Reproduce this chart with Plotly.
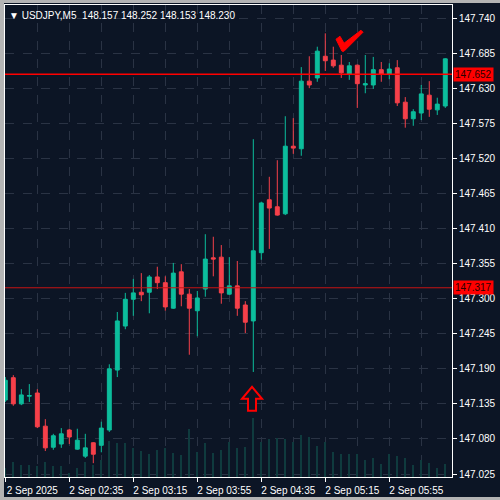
import plotly.graph_objects as go
import pandas as pd

# USDJPY M5 bars, 2 Sep 2025
times = pd.date_range("2025-09-02 01:55", periods=56, freq="5min")

opens = [147.141, 147.176, 147.135, 147.147, 147.152, 147.100, 147.067, 147.072, 147.094, 147.064,
         147.053, 147.074, 147.070, 147.094, 147.188, 147.257, 147.299, 147.310, 147.310, 147.334,
         147.325, 147.285, 147.342, 147.307, 147.281, 147.315, 147.364, 147.365, 147.307, 147.320,
         147.290, 147.265, 147.372, 147.455, 147.444, 147.433, 147.539, 147.535, 147.641, 147.646,
         147.680, 147.674, 147.666, 147.652, 147.666, 147.635, 147.635, 147.659, 147.652, 147.662,
         147.608, 147.582, 147.591, 147.619, 147.596, 147.602]
highs = [147.177, 147.180, 147.158, 147.166, 147.158, 147.111, 147.088, 147.097, 147.096, 147.096,
         147.088, 147.075, 147.107, 147.197, 147.279, 147.309, 147.331, 147.340, 147.337, 147.350,
         147.335, 147.356, 147.354, 147.315, 147.312, 147.401, 147.397, 147.384, 147.365, 147.359,
         147.296, 147.550, 147.452, 147.491, 147.517, 147.586, 147.583, 147.663, 147.680, 147.695,
         147.716, 147.695, 147.682, 147.671, 147.667, 147.682, 147.679, 147.671, 147.669, 147.674,
         147.616, 147.597, 147.635, 147.641, 147.615, 147.677]
lows = [147.138, 147.132, 147.133, 147.138, 147.097, 147.061, 147.063, 147.066, 147.072, 147.063,
        147.050, 147.042, 147.059, 147.091, 147.177, 147.252, 147.273, 147.296, 147.277, 147.315,
        147.281, 147.284, 147.288, 147.212, 147.241, 147.303, 147.335, 147.292, 147.306, 147.273,
        147.246, 147.185, 147.361, 147.378, 147.430, 147.431, 147.527, 147.524, 147.630, 147.640,
        147.657, 147.662, 147.646, 147.643, 147.599, 147.622, 147.629, 147.640, 147.644, 147.602,
        147.568, 147.571, 147.580, 147.585, 147.588, 147.599]
closes = [147.172, 147.135, 147.149, 147.148, 147.099, 147.066, 147.085, 147.088, 147.083, 147.078,
          147.066, 147.056, 147.097, 147.190, 147.265, 147.299, 147.309, 147.306, 147.334, 147.325,
          147.287, 147.340, 147.307, 147.285, 147.301, 147.362, 147.362, 147.309, 147.320, 147.285,
          147.263, 147.375, 147.450, 147.442, 147.431, 147.539, 147.536, 147.641, 147.635, 147.688,
          147.673, 147.665, 147.654, 147.665, 147.637, 147.637, 147.659, 147.652, 147.660, 147.607,
          147.582, 147.593, 147.621, 147.597, 147.605, 147.676]
tick_volume = [90, 150, 120, 120, 110, 150, 110, 110, 40, 90,
               150, 120, 170, 360, 340, 340, 290, 260, 230, 270,
               290, 240, 220, 480, 250, 340, 240, 270, 350, 290,
               300, 590, 350, 380, 390, 380, 350, 420, 400, 310,
               350, 250, 230, 230, 230, 170, 190, 130, 230, 210,
               190, 120, 170, 140, 90, 130]

level_lines = [147.652, 147.317]
x_tickvals = ["2025-09-02 01:55", "2025-09-02 02:35", "2025-09-02 03:15", "2025-09-02 03:55",
              "2025-09-02 04:35", "2025-09-02 05:15", "2025-09-02 05:55"]
x_ticktext = ["2 Sep 2025", "2 Sep 02:35", "2 Sep 03:15", "2 Sep 03:55",
              "2 Sep 04:35", "2 Sep 05:15", "2 Sep 05:55"]
header = "▼\u00a0USDJPY,M5\u00a0\u00a0148.157 148.252 148.153 148.230"

BG = "#0c1525"
GRID = "#2a3344"
UP = "#0cbd9c"
DOWN = "#f6404a"
FONT = "Liberation Sans, Arial, sans-serif"

fig = go.Figure()

# tick volume histogram behind the candles
fig.add_trace(go.Bar(x=times, y=tick_volume, yaxis="y2", width=40000,
                     marker=dict(color="#0f3b3e", line=dict(width=0)), hoverinfo="skip"))

fig.add_trace(go.Candlestick(x=times, open=opens, high=highs, low=lows, close=closes,
                             increasing=dict(line=dict(color=UP, width=1), fillcolor=UP),
                             decreasing=dict(line=dict(color=DOWN, width=1), fillcolor=DOWN),
                             whiskerwidth=0))

# horizontal levels with price tags
lw = [1.5, 1]
lc = ["#ff0000", "#c81414"]
for lvl, w, c in zip(level_lines, lw, lc):
    fig.add_hline(y=lvl, line=dict(color=c, width=w))
    fig.add_annotation(x=1, xref="paper", y=lvl, yref="y", xanchor="left", yanchor="middle",
                       text=f"{lvl:.3f}", showarrow=False, bgcolor="#ff0000", borderpad=1,
                       xshift=1, font=dict(family=FONT, size=10, color="#2a0000"))

# header
fig.add_annotation(x=0, xref="paper", y=1, yref="paper", xanchor="left", yanchor="top",
                   xshift=2, yshift=-3, text=header, showarrow=False,
                   font=dict(family=FONT, size=10, color="white"))

# hand-drawn tick mark and hollow up arrow (pixel-sized paths anchored on the chart)
fig.add_shape(type="path", xsizemode="pixel", ysizemode="pixel",
              xanchor="2025-09-02 05:29:49", yanchor=147.702,
              path="M -13,3 L -9,6 L -5,-1 L 12,12 L 14,10 L -5,-9 L -7,-9 Z",
              fillcolor="#ff0000", line=dict(color="#ff0000", width=1))
fig.add_shape(type="path", xsizemode="pixel", ysizemode="pixel",
              xanchor="2025-09-02 04:29:12", yanchor=147.143,
              path="M -4,-12 L -4,0 L -10,0 L 0,12 L 10,0 L 4,0 L 4,-12 Z",
              line=dict(color="#ff0000", width=2))

fig.update_layout(
    width=496, height=494,
    margin=dict(l=1, r=48, t=2, b=20),
    paper_bgcolor=BG, plot_bgcolor=BG,
    showlegend=False,
    font=dict(family=FONT, size=10, color="white"),
    xaxis=dict(type="date", range=["2025-09-02 01:54:48", "2025-09-02 06:34:12"],
               rangeslider=dict(visible=False),
               tickvals=x_tickvals, ticktext=x_ticktext, ticklabelshift=27,
               ticks="outside", ticklen=4, tickcolor="white",
               showgrid=True, gridcolor=GRID, griddash="dash", gridwidth=1,
               minor=dict(dtick=20 * 60 * 1000, tick0="2025-09-02 01:55", showgrid=True,
                          gridcolor=GRID, griddash="dash", ticks=""),
               showline=True, linecolor="white", linewidth=1, mirror=True, zeroline=False),
    yaxis=dict(side="right", range=[147.0203, 147.7604], tick0=147.025, dtick=0.055,
               tickformat=".3f", ticks="outside", ticklen=4, tickcolor="white",
               showgrid=True, gridcolor=GRID, griddash="dash",
               showline=True, linecolor="white", linewidth=1, mirror=True, zeroline=False),
    yaxis2=dict(overlaying="y", range=[0, 4720], visible=False, fixedrange=True),
)

# grey terminal frame around the chart window
fig.write_html("out.html", config={"displayModeBar": False},
               post_script="document.body.style.margin='3px 0 0 4px';"
                           "document.body.style.background='#b4b4b4';")
